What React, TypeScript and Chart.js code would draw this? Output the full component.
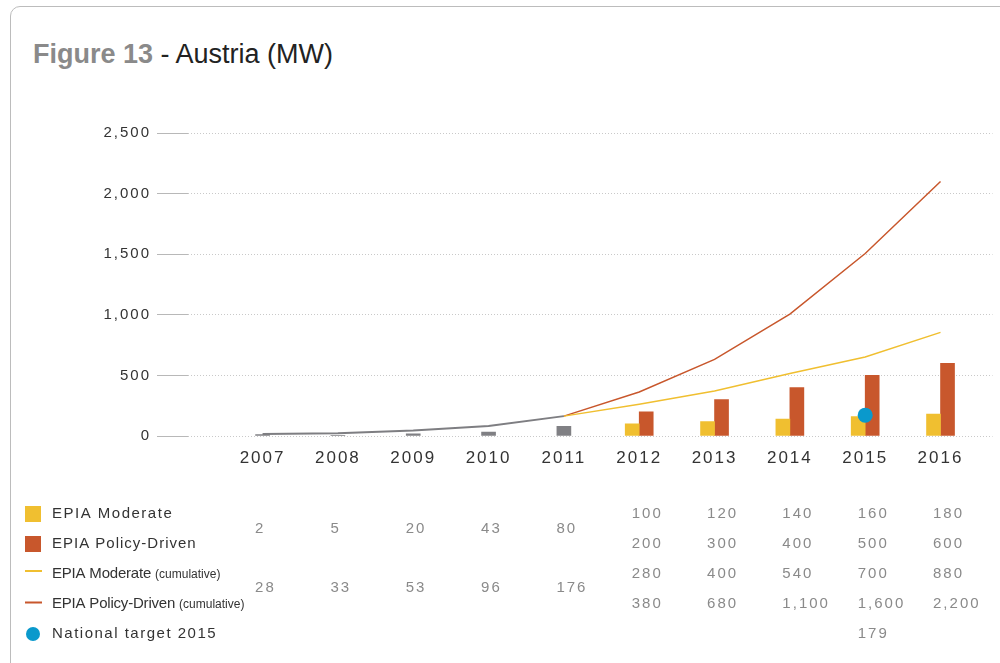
import React, { useEffect, useRef } from 'react';
import { Chart, registerables } from 'chart.js';

Chart.register(...registerables);

const FONT = "'Liberation Sans', Arial, Helvetica, sans-serif";

// Categories
const years = [2007, 2008, 2009, 2010, 2011, 2012, 2013, 2014, 2015, 2016];

// Plotted values
const historicBars = [12, 5, 18, 33, 80, null, null, null, null, null];
const moderateBars = [null, null, null, null, null, 100, 120, 140, 160, 180];
const policyBars = [null, null, null, null, null, 200, 300, 400, 500, 600];
const historicLine = [16, 22, 45, 82, 164, null, null, null, null, null];
const moderateLine = [null, null, null, null, 164, 262, 372, 515, 652, 855];
const policyLine = [null, null, null, null, 164, 363, 632, 1005, 1506, 2100];
const targetPoint = [null, null, null, null, null, null, null, null, 172, null];

// Table values (printed under the chart)
const tableHistoric = [2, 5, 20, 43, 80, null, null, null, null, null];
const tableHistoricCum = [28, 33, 53, 96, 176, null, null, null, null, null];
const tableModerate = [null, null, null, null, null, 100, 120, 140, 160, 180];
const tablePolicy = [null, null, null, null, null, 200, 300, 400, 500, 600];
const tableModerateCum = [null, null, null, null, null, 280, 400, 540, 700, 880];
const tablePolicyCum = [null, null, null, null, null, 380, 680, 1100, 1600, 2200];
const tableTarget = [null, null, null, null, null, null, null, null, 179, null];

// Y axis ticks
const yMin = 0;
const yMax = 2500;
const yStep = 500;

const COLORS = {
  gray: '#808084',
  grayLine: '#7e7e82',
  yellow: '#f0bf30',
  orange: '#c8572c',
  blue: '#0a99cc',
};

const fmt = (v: number) => v.toLocaleString('en-US');

const tablePlugin = {
  id: 'dataTable',
  beforeDraw(chart: any) {
    chart.ctx.letterSpacing = '2px';
  },
  afterDraw(chart: any) {
    const ctx = chart.ctx;
    const xs = chart.scales.x;
    ctx.save();
    ctx.textAlign = 'left';
    ctx.textBaseline = 'alphabetic';

    const rowY = [513, 543, 573, 603, 633];
    const histY = [527.5, 587];
    const base = 5.4;

    // Legend markers
    ctx.fillStyle = COLORS.yellow;
    ctx.fillRect(25, 506, 16, 16);
    ctx.fillStyle = COLORS.orange;
    ctx.fillRect(25, 536, 16, 16);
    ctx.fillStyle = COLORS.yellow;
    ctx.fillRect(25, 570, 17, 2);
    ctx.fillStyle = COLORS.orange;
    ctx.fillRect(25, 601.5, 17, 2);
    ctx.fillStyle = COLORS.blue;
    ctx.beginPath();
    ctx.arc(33, 634, 7, 0, Math.PI * 2);
    ctx.fill();

    // Legend labels
    ctx.fillStyle = '#333';
    ctx.font = `15px ${FONT}`;
    ctx.letterSpacing = '1.5px';
    ctx.fillText('EPIA Moderate', 52, rowY[0] + base);
    ctx.letterSpacing = '1px';
    ctx.fillText('EPIA Policy-Driven', 52, rowY[1] + base);
    ctx.letterSpacing = '1.5px';
    ctx.fillText('National target 2015', 52, rowY[4] + base);

    const cumRow = (label: string, y: number) => {
      ctx.font = `15px ${FONT}`;
      ctx.letterSpacing = '-0.2px';
      ctx.fillText(label, 52, y + base);
      const w = ctx.measureText(label + ' ').width;
      ctx.font = `12px ${FONT}`;
      ctx.letterSpacing = '0px';
      ctx.fillText('(cumulative)', 52 + w, y + base);
    };
    cumRow('EPIA Moderate', rowY[2]);
    cumRow('EPIA Policy-Driven', rowY[3]);

    // Numbers
    ctx.font = `15px ${FONT}`;
    ctx.fillStyle = '#8a8a8a';
    ctx.letterSpacing = '2px';
    const drawRow = (vals: (number | null)[], y: number) => {
      vals.forEach((v, i) => {
        if (v == null) return;
        ctx.fillText(fmt(v), xs.getPixelForValue(years[i]) - 7.5, y + base);
      });
    };
    drawRow(tableModerate, rowY[0]);
    drawRow(tablePolicy, rowY[1]);
    drawRow(tableModerateCum, rowY[2]);
    drawRow(tablePolicyCum, rowY[3]);
    drawRow(tableTarget, rowY[4]);
    drawRow(tableHistoric, histY[0]);
    drawRow(tableHistoricCum, histY[1]);

    ctx.restore();
  },
};

const pts = (vals: (number | null)[]) => years.map((x, i) => ({ x, y: vals[i] }));

export default function App() {
  const ref = useRef<HTMLCanvasElement>(null);

  useEffect(() => {
    const chart = new Chart(ref.current as HTMLCanvasElement, {
      type: 'bar',
      data: {
        datasets: [
          {
            type: 'line',
            label: 'National target 2015',
            data: pts(targetPoint),
            showLine: false,
            pointRadius: 7.5,
            pointBorderWidth: 0,
            pointBackgroundColor: COLORS.blue,
            borderColor: COLORS.blue,
          } as any,
          {
            type: 'line',
            label: 'Historical (cumulative)',
            data: pts(historicLine),
            borderColor: COLORS.grayLine,
            borderWidth: 2,
            pointRadius: 0,
            tension: 0,
          },
          {
            type: 'line',
            label: 'EPIA Moderate (cumulative)',
            data: pts(moderateLine),
            borderColor: COLORS.yellow,
            borderWidth: 1.5,
            pointRadius: 0,
            tension: 0,
          },
          {
            type: 'line',
            label: 'EPIA Policy-Driven (cumulative)',
            data: pts(policyLine),
            borderColor: COLORS.orange,
            borderWidth: 1.5,
            pointRadius: 0,
            tension: 0,
          },
          {
            type: 'bar',
            label: 'Historical',
            data: pts(historicBars),
            backgroundColor: COLORS.gray,
            barThickness: 14,
            skipNull: true,
          } as any,
          {
            type: 'bar',
            label: 'EPIA Moderate',
            data: pts(moderateBars),
            backgroundColor: COLORS.yellow,
            barThickness: 14,
            skipNull: true,
          } as any,
          {
            type: 'bar',
            label: 'EPIA Policy-Driven',
            data: pts(policyBars),
            backgroundColor: COLORS.orange,
            barThickness: 14,
            skipNull: true,
          } as any,
        ],
      },
      options: {
        responsive: false,
        animation: false,
        locale: 'en-US',
        layout: { padding: { top: 133, left: 0, right: 3, bottom: 187 } },
        plugins: {
          legend: { display: false },
          tooltip: { enabled: false },
          title: { display: false },
        },
        scales: {
          x: {
            type: 'linear',
            min: 2006.01,
            max: 2016.69,
            offset: false,
            afterBuildTicks: (s: any) => {
              s.ticks = years.map((v) => ({ value: v }));
            },
            afterFit: (s: any) => {
              s.height = 40;
            },
            grid: { display: false, drawTicks: false, offset: false },
            border: { display: false },
            ticks: {
              callback: (v: any) => String(v),
              font: { size: 17, family: FONT },
              color: '#333',
              padding: 12,
              autoSkip: false,
              maxRotation: 0,
            },
          },
          y: {
            min: yMin,
            max: yMax,
            afterFit: (s: any) => {
              s.width = 188;
            },
            ticks: {
              stepSize: yStep,
              font: { size: 15, family: FONT },
              color: '#333',
              padding: 6,
            },
            grid: {
              color: '#c9c9c9',
              lineWidth: 1,
              tickLength: 31,
              tickColor: '#b8b8b8',
              tickBorderDash: [],
            },
            border: { display: false, dash: [1, 2] },
          },
        },
      } as any,
      plugins: [tablePlugin],
    });
    return () => chart.destroy();
  }, []);

  return (
    <div
      style={{
        position: 'absolute',
        left: 0,
        top: 0,
        width: 1000,
        height: 663,
        overflow: 'hidden',
        background: '#fff',
      }}
    >
      <div
        style={{
          position: 'absolute',
          left: 10,
          top: 6,
          width: 1010,
          height: 720,
          border: '1px solid #bcbcbc',
          borderRadius: 10,
          boxSizing: 'border-box',
        }}
      />
      <div
        style={{
          position: 'absolute',
          left: 33,
          top: 39,
          fontFamily: FONT,
          fontSize: 27,
          lineHeight: '30px',
          whiteSpace: 'nowrap',
        }}
      >
        <span style={{ fontWeight: 'bold', color: '#8a8a8a' }}>Figure 13</span>
        <span style={{ color: '#222' }}> - Austria (MW)</span>
      </div>
      <canvas
        ref={ref}
        width={1000}
        height={663}
        style={{ position: 'absolute', left: 0, top: 0, width: 1000, height: 663 }}
      />
    </div>
  );
}
